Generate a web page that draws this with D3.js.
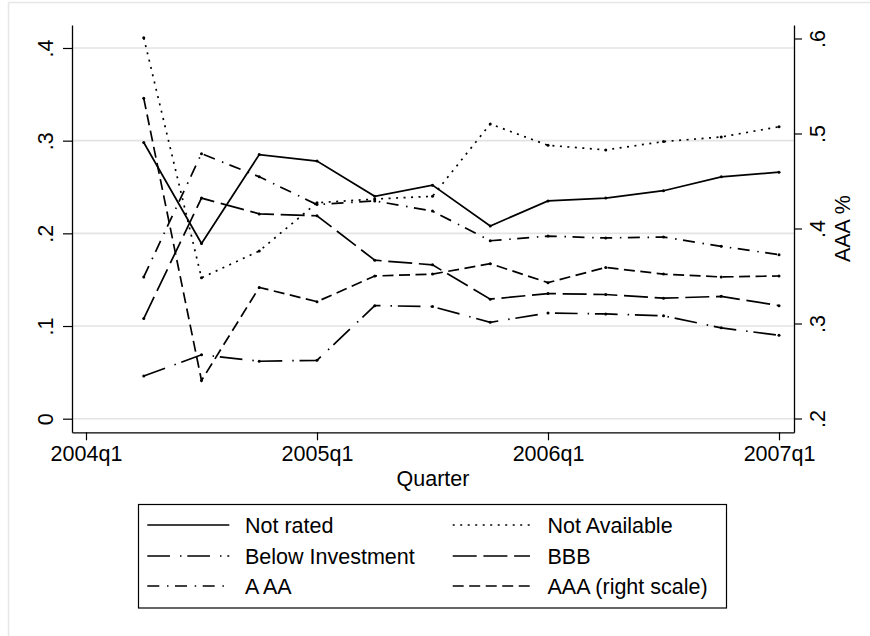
<!DOCTYPE html>
<html>
<head>
<meta charset="utf-8">
<script src="https://cdn.jsdelivr.net/npm/d3@7"></script>
<style>
  body { margin: 0; background: #fff; }
  svg { display: block; }
  text { font-family: "Liberation Sans", Arial, Helvetica, sans-serif; fill: #000; }
</style>
</head>
<body>
<svg id="chart" width="870" height="636"></svg>
<script>
// Quarterly shares by rating class
const quarters = ["2004q2","2004q3","2004q4","2005q1","2005q2","2005q3",
                  "2005q4","2006q1","2006q2","2006q3","2006q4","2007q1"];
const notRated        = [0.298, 0.189, 0.285, 0.278, 0.240, 0.252, 0.208, 0.235, 0.238, 0.246, 0.261, 0.266];
const notAvailable    = [0.411, 0.152, 0.181, 0.233, 0.237, 0.240, 0.318, 0.295, 0.290, 0.299, 0.304, 0.315];
const belowInvestment = [0.046, 0.069, 0.062, 0.063, 0.122, 0.121, 0.104, 0.114, 0.113, 0.111, 0.098, 0.090];
const bbb             = [0.108, 0.238, 0.221, 0.219, 0.171, 0.166, 0.129, 0.135, 0.134, 0.130, 0.132, 0.122];
const aAA             = [0.153, 0.286, 0.261, 0.231, 0.235, 0.224, 0.192, 0.197, 0.195, 0.196, 0.186, 0.177];
const aaaRight        = [0.537, 0.240, 0.338, 0.323, 0.350, 0.352, 0.363, 0.343, 0.359, 0.352, 0.349, 0.350];

const xTickLabels = ["2004q1","2005q1","2006q1","2007q1"];
const leftTicks   = [0, 0.1, 0.2, 0.3, 0.4];
const rightTicks  = [0.2, 0.3, 0.4, 0.5, 0.6];
const xTitle = "Quarter";
const rightTitle = "AAA %";

// quarter string -> number of quarters since 2004q1
const qIndex = s => (+s.slice(0, 4) - 2004) * 4 + (+s.slice(5) - 1);

const series = [
  { name: "Not rated",         values: notRated,        axis: "left",  dash: null },
  { name: "Not Available",     values: notAvailable,    axis: "left",  dash: "2,5.5" },
  { name: "Below Investment",  values: belowInvestment, axis: "left",  dash: "22.7,10,1.5,5.8" },
  { name: "BBB",               values: bbb,             axis: "left",  dash: "24,6.7" },
  { name: "A AA",              values: aAA,             axis: "left",  dash: "12,7.7,1.5,6.5" },
  { name: "AAA (right scale)", values: aaaRight,        axis: "right", dash: "11,5.5" }
];

const svg = d3.select("#chart");
const FONT = 21.5;
const plot = { left: 72, right: 794, top: 25, bottom: 432.3 };

const x = d3.scaleLinear().domain([-0.2424, 12.2597]).range([plot.left, plot.right]);
const yL = d3.scaleLinear().domain([-0.01468, 0.4248]).range([plot.bottom, plot.top]);
const yR = d3.scaleLinear().domain([0.18547, 0.6142]).range([plot.bottom, plot.top]);

const fmt = v => v === 0 ? "0" : d3.format(".1f")(v).replace(/^0/, "");

// outer graph-region frame
svg.append("line").attr("x1", 8.5).attr("x2", 870).attr("y1", 2.5).attr("y2", 2.5)
  .attr("stroke", "#e6e6e6").attr("stroke-width", 1.5);
svg.append("line").attr("x1", 8.5).attr("x2", 8.5).attr("y1", 2.5).attr("y2", 636)
  .attr("stroke", "#e6e6e6").attr("stroke-width", 1.5);

// horizontal grid at left-axis ticks
svg.append("g").selectAll("line").data(leftTicks).join("line")
  .attr("x1", plot.left).attr("x2", plot.right)
  .attr("y1", d => yL(d)).attr("y2", d => yL(d))
  .attr("stroke", "#e3e3e3").attr("stroke-width", 1.6);

// series lines
const line = s => d3.line()
  .x((d, i) => x(qIndex(quarters[i])))
  .y(d => (s.axis === "left" ? yL : yR)(d));

const gLines = svg.append("g");
series.forEach(s => {
  gLines.append("path")
    .attr("d", line(s)(s.values))
    .attr("fill", "none")
    .attr("stroke", "#000")
    .attr("stroke-width", 1.7)
    .attr("stroke-dasharray", s.dash)
    .attr("stroke-linejoin", "miter");
  gLines.append("g").selectAll("circle").data(s.values).join("circle")
    .attr("cx", (d, i) => x(qIndex(quarters[i])))
    .attr("cy", d => (s.axis === "left" ? yL : yR)(d))
    .attr("r", 1.5).attr("fill", "#000");
});

// axes
const styleAxis = g => {
  g.select(".domain").attr("stroke", "#000").attr("stroke-width", 1.3);
  g.selectAll(".tick line").attr("stroke", "#000").attr("stroke-width", 1.2);
  g.selectAll("text").attr("font-size", FONT).attr("font-family", null).attr("fill", "#000");
};

const xAxis = svg.append("g").attr("transform", `translate(0,${plot.bottom})`)
  .call(d3.axisBottom(x).tickValues(xTickLabels.map(qIndex))
    .tickFormat(i => xTickLabels.find(l => qIndex(l) === i))
    .tickSize(8).tickSizeOuter(0));
styleAxis(xAxis);
xAxis.selectAll("text").attr("y", 28.7).attr("dy", 0);

const leftAxis = svg.append("g").attr("transform", `translate(${plot.left},0)`)
  .call(d3.axisLeft(yL).tickValues(leftTicks).tickFormat(fmt).tickSize(9).tickSizeOuter(0));
styleAxis(leftAxis);
leftAxis.selectAll("text")
  .attr("transform", "rotate(-90)").attr("x", 0).attr("y", -19.3).attr("dy", 0)
  .attr("text-anchor", "middle");

const rightAxis = svg.append("g").attr("transform", `translate(${plot.right},0)`)
  .call(d3.axisRight(yR).tickValues(rightTicks).tickFormat(fmt).tickSize(8).tickSizeOuter(0));
styleAxis(rightAxis);
rightAxis.selectAll("text")
  .attr("transform", "rotate(-90)").attr("x", 0).attr("y", 31).attr("dy", 0)
  .attr("text-anchor", "middle");

// axis titles
svg.append("text").attr("x", (plot.left + plot.right) / 2).attr("y", 486)
  .attr("text-anchor", "middle").attr("font-size", FONT).text(xTitle);
svg.append("text")
  .attr("transform", `translate(849.5,${(plot.top + plot.bottom) / 2}) rotate(-90)`)
  .attr("text-anchor", "middle").attr("font-size", FONT).text(rightTitle);

// legend
const legend = svg.append("g");
legend.append("rect").attr("x", 138.5).attr("y", 504.5).attr("width", 588).attr("height", 103.5)
  .attr("fill", "#fff").attr("stroke", "#000").attr("stroke-width", 1.2);
const rowsY = [525, 556, 586];
const cols = [{ x1: 147.3, x2: 229.3, tx: 245 }, { x1: 452.7, x2: 530, tx: 547.5 }];
series.forEach((s, i) => {
  const c = cols[i % 2], ry = rowsY[Math.floor(i / 2)];
  legend.append("line").attr("x1", c.x1).attr("x2", c.x2).attr("y1", ry).attr("y2", ry)
    .attr("stroke", "#000").attr("stroke-width", 1.7).attr("stroke-dasharray", s.dash);
  legend.append("text").attr("x", c.tx).attr("y", ry + 7.7)
    .attr("font-size", FONT).text(s.name);
});
</script>
</body>
</html>
